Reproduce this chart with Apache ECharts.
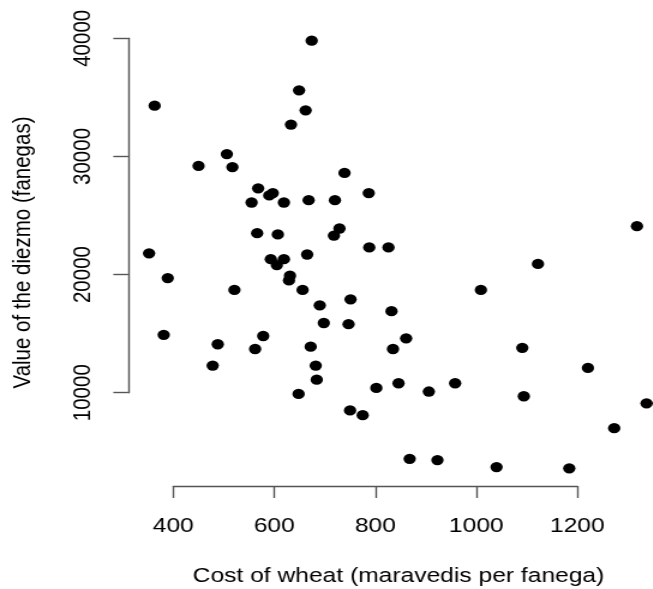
<!DOCTYPE html>
<html>
<head>
<meta charset="utf-8">
<script src="https://cdn.jsdelivr.net/npm/echarts@6/dist/echarts.min.js"></script>
<style>
  html, body { margin: 0; padding: 0; background: #fff; overflow: hidden; }
  #wrap { width: 653px; height: 589px; overflow: hidden; position: relative; }
  #chart { width: 544.17px; height: 589px; transform: scaleX(1.2); transform-origin: 0 0; }
</style>
</head>
<body>
<div id="wrap"><div id="chart"></div></div>
<script>
// Data
const costOfWheat = [
  352, 363, 381, 389, 450, 478, 488, 506, 517, 521,
  555, 562, 568, 566, 578, 590, 597, 593, 607, 605,
  619, 619, 631, 629, 633, 649, 648, 656, 662, 665,
  668, 674, 672, 682, 684, 690, 698, 718, 729, 720,
  739, 747, 751, 750, 775, 787, 788, 802, 826, 832,
  835, 846, 861, 868, 906, 923, 958, 1009, 1040, 1091,
  1094, 1122, 1184, 1221, 1273, 1318, 1337
];
const diezmoValue = [
  21800, 34300, 14900, 19700, 29200, 12300, 14100, 30200, 29100, 18700,
  26100, 13700, 27300, 23500, 14800, 26700, 26900, 21300, 23400, 20800,
  21300, 26100, 19900, 19500, 32700, 35600, 9900, 18700, 33900, 21700,
  26300, 39800, 13900, 12300, 11100, 17400, 15900, 23300, 23900, 26300,
  28600, 15800, 17900, 8500, 8100, 26900, 22300, 10400, 22300, 16900,
  13700, 10800, 14600, 4400, 10100, 4300, 10800, 18700, 3700, 13800,
  9700, 20900, 3600, 12100, 7000, 24100, 9100
];
const xTicks = [400, 600, 800, 1000, 1200];
const yTicks = [10000, 20000, 30000, 40000];
const xTitle = 'Cost of wheat (maravedis per fanega)';
const yTitle = 'Value of the diezmo (fanegas)';

const points = costOfWheat.map((c, i) => [c, diezmoValue[i]]);
const FONT = 'Liberation Sans, Arial, Helvetica, sans-serif';
const axisColor = '#555';
const plain = v => String(v);

const chart = echarts.init(document.getElementById('chart'), null, { renderer: 'canvas' });
chart.setOption({
  animation: false,
  backgroundColor: '#fff',
  grid: { left: 144.4, width: 336.7, top: 38.3, height: 354.4, containLabel: false },
  xAxis: {
    type: 'value',
    min: xTicks[0], max: xTicks[xTicks.length - 1], interval: xTicks[1] - xTicks[0],
    offset: 93.3,
    axisLine: { show: true, lineStyle: { color: axisColor, width: 1.4 } },
    axisTick: { show: true, length: 12, lineStyle: { color: axisColor, width: 1.4 } },
    axisLabel: { show: true, margin: 30, color: '#000', fontSize: 20.5, fontFamily: FONT, formatter: plain },
    splitLine: { show: false }
  },
  yAxis: {
    type: 'value',
    min: yTicks[0], max: yTicks[yTicks.length - 1], interval: yTicks[1] - yTicks[0],
    offset: 37.5,
    axisLine: { show: true, lineStyle: { color: axisColor, width: 1.4 } },
    axisTick: { show: true, length: 12.5, lineStyle: { color: axisColor, width: 1.4 } },
    axisLabel: { show: true, rotate: 90, margin: 27, color: '#000', fontSize: 20.5, fontFamily: FONT, formatter: plain },
    splitLine: { show: false }
  },
  graphic: [
    { type: 'text', x: 332.1, y: 576, silent: true,
      style: { text: xTitle, align: 'center', verticalAlign: 'middle', fill: '#000', fontSize: 20.5, fontFamily: FONT } },
    { type: 'text', x: 19.5, y: 252.5, rotation: Math.PI / 2, silent: true,
      style: { text: yTitle, align: 'center', verticalAlign: 'middle', fill: '#000', fontSize: 20.5, fontFamily: FONT } }
  ],
  series: [{
    type: 'scatter',
    data: points,
    clip: false,
    symbol: 'circle',
    symbolSize: 10.3,
    itemStyle: { color: '#000', opacity: 1 }
  }]
});
</script>
</body>
</html>
